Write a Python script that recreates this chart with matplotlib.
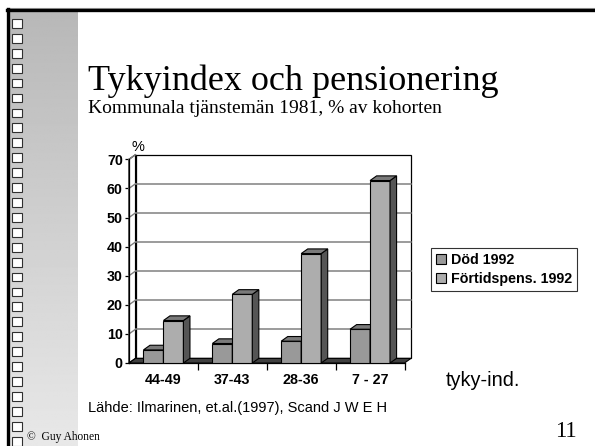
import numpy as np
import matplotlib.pyplot as plt
from matplotlib.patches import Rectangle, Polygon

# data
kategorier = ['44-49', '37-43', '28-36', '7 - 27']
dod_1992 = [4.5, 6.7, 7.5, 11.6]
fortids_1992 = [14.6, 23.6, 37.6, 62.7]
serier = ['Död 1992', 'Förtidspens. 1992']

sans = 'Liberation Sans'
serif = 'Liberation Serif'

fig = plt.figure(figsize=(5.95, 4.46), dpi=100)
fig.patch.set_facecolor('white')

# slide background (pixel coords)
bg = fig.add_axes([0, 0, 1, 1], zorder=0)
bg.set_xlim(0, 595)
bg.set_ylim(446, 0)
bg.axis('off')
grad = np.linspace(0.72, 0.91, 256).reshape(-1, 1)
bg.imshow(grad, cmap='gray', vmin=0, vmax=1, aspect='auto',
          extent=(9.5, 77, 446, 11.5), zorder=1)
bg.plot([7, 595], [8.2, 8.2], color='#a0a0a0', lw=0.8, zorder=2)
bg.plot([7, 595], [10, 10], color='black', lw=2.4, zorder=3)
bg.plot([8.3, 8.3], [8.8, 446], color='black', lw=2.4, zorder=3)
for k in range(29):
    bg.add_patch(Rectangle((12.3, 19 + k * 14.92), 10, 8.8, fc='white',
                           ec='#303030', lw=0.8, zorder=4))

bg.text(88, 90, 'Tykyindex och pensionering', family=serif, fontsize=26,
        va='baseline', ha='left', zorder=5)
bg.text(88, 113, 'Kommunala tjänstemän 1981, % av kohorten', family=serif,
        fontsize=14, va='baseline', ha='left', zorder=5)
bg.text(131, 151, '%', family=sans, fontsize=10.5, va='baseline', ha='left', zorder=5)
bg.text(446, 386, 'tyky-ind.', family=sans, fontsize=14.3, va='baseline', ha='left', zorder=5)
bg.text(88, 412, 'Lähde: Ilmarinen, et.al.(1997), Scand J W E H', family=sans,
        fontsize=10.5, va='baseline', ha='left', zorder=5)
bg.text(27, 440, '©  Guy Ahonen', family=serif, fontsize=8.3, va='baseline',
        ha='left', zorder=5)
bg.text(555, 437, '11', family=serif, fontsize=16.5, va='baseline', ha='left', zorder=5)

# chart
ax = fig.add_axes([129 / 595, 83 / 446, 275.5 / 595, 203.7 / 446], zorder=2)
ax.patch.set_alpha(0)
ax.set_xlim(-0.5, 3.5)
ax.set_ylim(0, 70)
for s in ['top', 'right']:
    ax.spines[s].set_visible(False)
ax.spines['left'].set_linewidth(0.9)
ax.spines['bottom'].set_linewidth(0.9)

dx, dy = 0.095, 1.6
x = np.arange(len(kategorier))
w = 0.29

# back wall, left wall, floor
ax.add_patch(Rectangle((-0.5 + dx, dy), 4, 70, fc='white', ec='black', lw=0.9,
                       clip_on=False, zorder=1))
ax.add_patch(Polygon([(-0.5, 0), (-0.5 + dx, dy), (-0.5 + dx, 70 + dy), (-0.5, 70)],
                     closed=True, fc='white', ec='black', lw=0.9, clip_on=False, zorder=1))
for v in range(10, 71, 10):
    if v < 70:
        ax.plot([-0.5 + dx, 3.5 + dx], [v + dy, v + dy], color='#808080', lw=1.1,
                clip_on=False, zorder=2)
    ax.plot([-0.5, -0.5 + dx], [v, v + dy], color='#808080', lw=1.0,
            clip_on=False, zorder=2)
ax.add_patch(Polygon([(-0.5, 0), (3.5, 0), (3.5 + dx, dy), (-0.5 + dx, dy)],
                     closed=True, fc='#404040', ec='black', lw=0.8, clip_on=False, zorder=3))


def bars3d(xs, vals, front, label):
    rects = ax.bar(xs, vals, w, color=front, edgecolor='black', lw=0.8,
                   label=label, zorder=4)
    for xc, h in zip(xs, vals):
        x0, x1 = xc - w / 2, xc + w / 2
        ax.add_patch(Polygon([(x1, 0), (x1 + dx, dy), (x1 + dx, h + dy), (x1, h)],
                             closed=True, fc='#555555', ec='black', lw=0.8,
                             clip_on=False, zorder=4))
        ax.add_patch(Polygon([(x0, h), (x0 + dx, h + dy), (x1 + dx, h + dy), (x1, h)],
                             closed=True, fc='#7a7a7a', ec='black', lw=0.8,
                             clip_on=False, zorder=4))
    return rects


b1 = bars3d(x - w / 2, dod_1992, '#999999', serier[0])
b2 = bars3d(x + w / 2, fortids_1992, '#adadad', serier[1])

ax.set_yticks(range(0, 71, 10))
ax.tick_params(axis='y', length=3, width=0.9, pad=1.5)
ax.set_xticks(x)
ax.set_xticklabels(kategorier)
ax.set_xticks(np.arange(0.5, 4, 1), minor=True)
ax.tick_params(axis='x', which='major', length=0, pad=7)
ax.tick_params(axis='x', which='minor', length=5, width=0.9)
for t in ax.get_xticklabels() + ax.get_yticklabels():
    t.set_fontfamily(sans)
    t.set_fontweight('bold')
    t.set_fontsize(10.3)

leg = fig.legend(handles=[b1, b2], labels=serier, loc='upper left',
                 bbox_to_anchor=(431 / 595, 1 - 248 / 446), frameon=True,
                 fancybox=False, borderaxespad=0, handlelength=0.7,
                 handleheight=0.7, handletextpad=0.35, borderpad=0.35,
                 labelspacing=0.35, prop={'family': sans, 'weight': 'bold', 'size': 10.3})
leg.get_frame().set_edgecolor('black')
leg.get_frame().set_linewidth(0.8)

fig.savefig('out.png', dpi=100)
